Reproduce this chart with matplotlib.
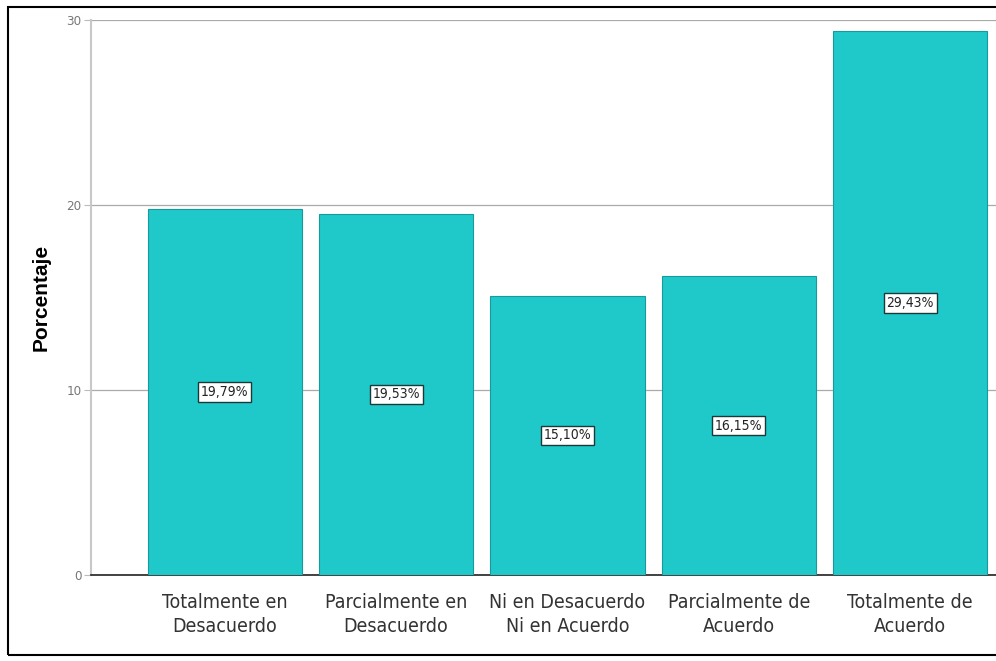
import matplotlib.pyplot as plt
from matplotlib.patches import Rectangle

categories = ['Totalmente en\nDesacuerdo', 'Parcialmente en\nDesacuerdo',
              'Ni en Desacuerdo\nNi en Acuerdo', 'Parcialmente de\nAcuerdo',
              'Totalmente de\nAcuerdo']
percentages = [19.79, 19.53, 15.10, 16.15, 29.43]
y_ticks = [0, 10, 20, 30]

narrow = dict(family='DejaVu Sans', stretch='condensed')

fig = plt.figure(figsize=(9.96, 6.61), dpi=100)
ax = fig.add_axes([0.0914, 0.130, 0.9086, 0.8397])

x = range(len(categories))
ax.bar(x, percentages, width=0.9, color='#1fc9ca', edgecolor='#179a9c',
       linewidth=0.8, zorder=3)

# percentage label boxes in the middle of each bar
for i, v in enumerate(percentages):
    ax.text(i, v / 2, f'{v:.2f}%'.replace('.', ','), ha='center', va='center',
            fontsize=10, color='#222222', zorder=4, **narrow,
            bbox=dict(boxstyle='square,pad=0.2', fc='white', ec='#1a3a3a', lw=1.0))

ax.set_xlim(-0.78, 4.5)
ax.set_ylim(0, 30)
ax.set_yticks(y_ticks)
ax.set_yticklabels([str(t) for t in y_ticks], fontsize=9.5, color='#777777', **narrow)
ax.set_xticks(list(x))
ax.set_xticklabels(categories, fontsize=14, color='#333333', linespacing=1.3,
                   **narrow)
ax.tick_params(axis='x', length=0, pad=13)
ax.tick_params(axis='y', length=5, color='#bbbbbb', width=0.8, pad=2)

ax.yaxis.grid(True, color='#aaaaaa', linewidth=0.9, zorder=0)
ax.set_axisbelow(True)

for s in ['top', 'right']:
    ax.spines[s].set_visible(False)
ax.spines['left'].set_color('#c8c8c8')
ax.spines['left'].set_linewidth(1.5)
ax.spines['bottom'].set_color('#222222')
ax.spines['bottom'].set_linewidth(1.2)

ax.set_ylabel('Porcentaje', fontsize=15, fontweight='bold', family='Liberation Sans',
              labelpad=11)

# outer frame around the chart
fig.patches.append(Rectangle((8 / 996, 1 - 655 / 661), 1.0, 648 / 661,
                             transform=fig.transFigure, fill=False,
                             edgecolor='black', linewidth=1.5))

fig.savefig('out.png', dpi=100)
